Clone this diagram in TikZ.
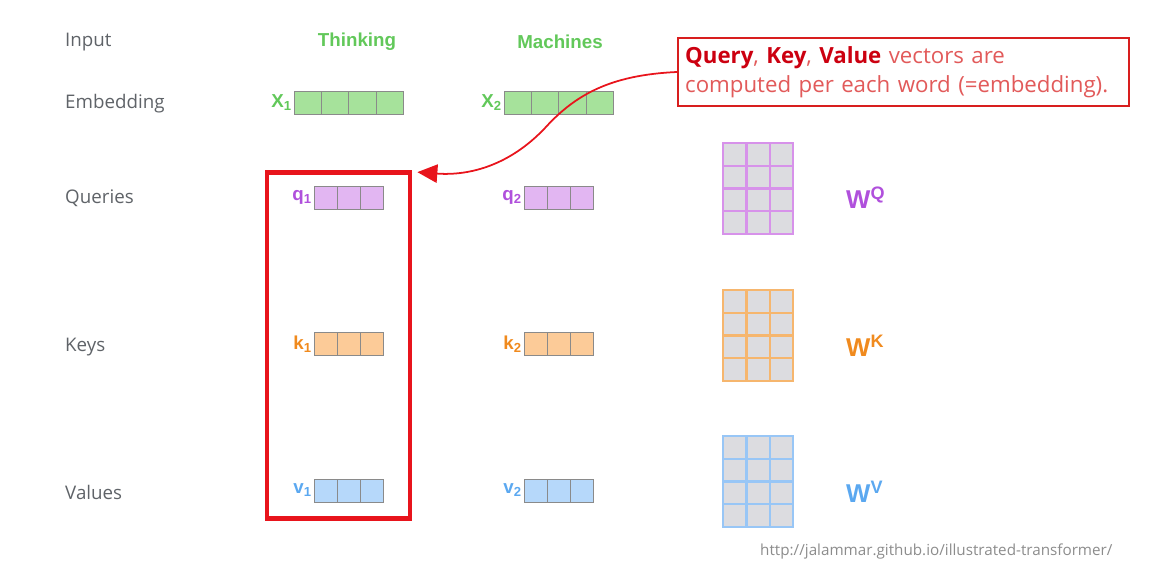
\documentclass[tikz,border=0pt]{standalone}
\usepackage{fontspec}
\setmainfont{Open Sans}
\newfontfamily\headfont{Liberation Sans}
\usepackage{tikz}
\usetikzlibrary{arrows.meta, positioning, calc}

\definecolor{labgray}{HTML}{5F6368}
\definecolor{wgreen}{HTML}{62C85A}
\definecolor{xfill}{HTML}{A6E29B}
\definecolor{boxgray}{HTML}{8A8A8A}
\definecolor{qtext}{HTML}{B050DC}
\definecolor{qfill}{HTML}{E2B6F2}
\definecolor{qline}{HTML}{D792EA}
\definecolor{ktext}{HTML}{F08A1E}
\definecolor{kfill}{HTML}{FCCB98}
\definecolor{kline}{HTML}{F6B66E}
\definecolor{vtext}{HTML}{5BA8F0}
\definecolor{vfill}{HTML}{B6D8FA}
\definecolor{vline}{HTML}{98C6F6}
\definecolor{wfill}{HTML}{DCDCE0}
\definecolor{focusred}{HTML}{E8141C}
\definecolor{notered}{HTML}{D81E1E}
\definecolor{notebold}{HTML}{CC0010}
\definecolor{notelight}{HTML}{E25A5A}
\definecolor{urlgray}{HTML}{8C8C8C}

\begin{document}
\begin{tikzpicture}[
        x=0.03cm, y=-0.03cm,
        lab/.style={anchor=west, inner sep=0, text=labgray, font=\fontsize{16}{19}\selectfont},
        word/.style={text=wgreen, font=\headfont\bfseries\fontsize{16}{19}\selectfont},
        tag/.style={anchor=east, inner sep=1.5pt, font=\headfont\bfseries\fontsize{16}{19}\selectfont},
        xcell/.style={draw=boxgray, fill=xfill, minimum width=0.8175cm, minimum height=0.69cm, inner sep=0},
        vcell/.style={draw=boxgray, minimum width=0.69cm, minimum height=0.69cm, inner sep=0},
        wcell/.style={fill=wfill, line width=2pt, minimum width=0.7cm, minimum height=0.6825cm, inner sep=0},
        wtag/.style={anchor=west, inner sep=0, font=\headfont\bfseries\fontsize{22}{24}\selectfont},
        >=Latex
    ]
        \useasboundingbox (0,0) rectangle (1176,562);

        \node[lab] (inp) at (65,42) {Input};
        \node[lab] (emb) at (65,104) {Embedding};
        \node[lab] (qry) at (65,198) {Queries};
        \node[lab] (key) at (65,347) {Keys};
        \node[lab] (val) at (65,492) {Values};

        \node[word] (w1) at (357,42) {Thinking};
        \node[word] (w2) at (560,42) {Machines};

        % embeddings
        \foreach \i in {1,...,4} {
            \node[xcell] (xa\i) at ({294+27.25*(\i-0.5)},102.5) {};
            \node[xcell] (xb\i) at ({504+27.25*(\i-0.5)},102.5) {};
        }
        \node[tag, text=wgreen] (x1) at (xa1.west) {X\textsubscript{1}};
        \node[tag, text=wgreen] (x2) at (xb1.west) {X\textsubscript{2}};

        % query / key / value vectors
        \foreach \r/\yc/\f in {q/197.5/qfill, k/344/kfill, v/490.5/vfill} {
            \foreach \i in {1,2,3} {
                \node[vcell, fill=\f] (\r a\i) at ({314+23*(\i-0.5)},\yc) {};
                \node[vcell, fill=\f] (\r b\i) at ({524+23*(\i-0.5)},\yc) {};
            }
        }
        \node[tag, text=qtext] (q1) at (qa1.west) {q\textsubscript{1}};
        \node[tag, text=qtext] (q2) at (qb1.west) {q\textsubscript{2}};
        \node[tag, text=ktext] (k1) at (ka1.west) {k\textsubscript{1}};
        \node[tag, text=ktext] (k2) at (kb1.west) {k\textsubscript{2}};
        \node[tag, text=vtext] (v1) at (va1.west) {v\textsubscript{1}};
        \node[tag, text=vtext] (v2) at (vb1.west) {v\textsubscript{2}};

        % weight matrices
        \foreach \m/\ytop/\c in {wq/143/qline, wk/290/kline, wv/436/vline} {
            \foreach \i in {1,2,3} {
                \foreach \j in {1,...,4} {
                    \node[wcell, draw=\c] (\m\i\j) at ({723+70/3*(\i-0.5)},{\ytop+22.75*(\j-0.5)}) {};
                }
            }
        }
        \node[wtag, text=qtext] (wqlab) at (846,198) {W\textsuperscript{Q}};
        \node[wtag, text=ktext] (wklab) at (846,346) {W\textsuperscript{K}};
        \node[wtag, text=vtext] (wvlab) at (846,492) {W\textsuperscript{V}};

        \node[draw=focusred, line width=4pt, minimum width=4.29cm, minimum height=10.38cm] (focus) at (338.5,345.5) {};

        \node[draw=notered, line width=1.5pt, fill=white, text width=13.1cm, inner xsep=0.22cm, minimum height=2.04cm, align=left,
              text=notelight, font=\fontsize{19}{25}\selectfont] (note) at (903.5,72)
            {\textcolor{notebold}{\textbf{Query}}, \textcolor{notebold}{\textbf{Key}}, \textcolor{notebold}{\textbf{Value}} vectors are\\
             computed per each word (=embedding).};

        \draw[focusred, line width=1.5pt, -{Triangle[length=0.6cm, width=0.55cm]}] (note.west)
            .. controls (610,75) and (575,95) .. (545,128)
            .. controls (510,165) and (470,176) .. ($(focus.north east)+(5,2)$);

        \node[anchor=north west, inner sep=0, text=urlgray, font=\fontsize{13}{15}\selectfont] (src) at (760,544)
            {http://jalammar.github.io/illustrated-transformer/};
    \end{tikzpicture}
\end{document}
